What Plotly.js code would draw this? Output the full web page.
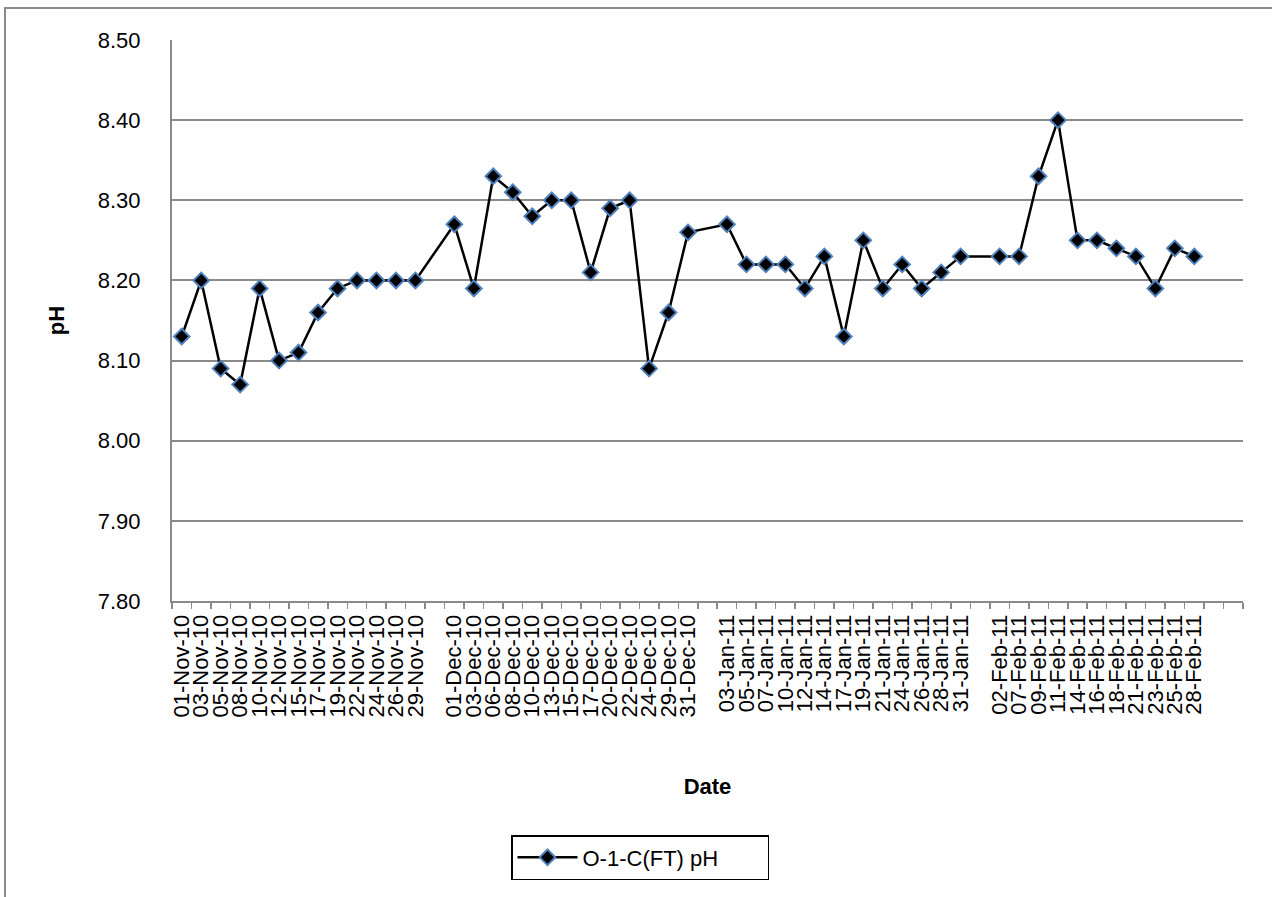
<!DOCTYPE html>
<html>
<head>
<meta charset="utf-8">
<script src="https://cdn.plot.ly/plotly-3.0.1.min.js"></script>
<style>
html,body{margin:0;padding:0;background:#fff;overflow:hidden;}
#wrap{position:relative;width:1272px;height:897px;overflow:hidden;}
#chart{width:1272px;height:897px;}
#frame{position:absolute;left:4px;top:7px;width:1400px;height:1000px;border:2px solid #8a8a8a;pointer-events:none;box-sizing:border-box;}
</style>
</head>
<body>
<div id="wrap"><div id="chart"></div><div id="frame"></div></div>
<script>
// Tick labels / sample dates, grouped by month
const novDates = ["01-Nov-10","03-Nov-10","05-Nov-10","08-Nov-10","10-Nov-10","12-Nov-10","15-Nov-10","17-Nov-10","19-Nov-10","22-Nov-10","24-Nov-10","26-Nov-10","29-Nov-10"];
const decDates = ["01-Dec-10","03-Dec-10","06-Dec-10","08-Dec-10","10-Dec-10","13-Dec-10","15-Dec-10","17-Dec-10","20-Dec-10","22-Dec-10","24-Dec-10","29-Dec-10","31-Dec-10"];
const janDates = ["03-Jan-11","05-Jan-11","07-Jan-11","10-Jan-11","12-Jan-11","14-Jan-11","17-Jan-11","19-Jan-11","21-Jan-11","24-Jan-11","26-Jan-11","28-Jan-11","31-Jan-11"];
const febDates = ["02-Feb-11","07-Feb-11","09-Feb-11","11-Feb-11","14-Feb-11","16-Feb-11","18-Feb-11","21-Feb-11","23-Feb-11","25-Feb-11","28-Feb-11"];

// pH values per month
const novPH = [8.13,8.20,8.09,8.07,8.19,8.10,8.11,8.16,8.19,8.20,8.20,8.20,8.20];
const decPH = [8.27,8.19,8.33,8.31,8.28,8.30,8.30,8.21,8.29,8.30,8.09,8.16,8.26];
const janPH = [8.27,8.22,8.22,8.22,8.19,8.23,8.13,8.25,8.19,8.22,8.19,8.21,8.23];
const febPH = [8.23,8.23,8.33,8.40,8.25,8.25,8.24,8.23,8.19,8.24,8.23];

// Axis category slots (blank slots separate the months, two trailing blanks)
const axisCategories = [...novDates, "", ...decDates, "", ...janDates, "", ...febDates, "", ""];

const seriesName = "O-1-C(FT) pH";
const yTitle = "pH";
const xTitle = "Date";
</script>
<script>
const dates = [...novDates, ...decDates, ...janDates, ...febDates];
const ph = [...novPH, ...decPH, ...janPH, ...febPH];
const xs = dates.map(d => axisCategories.indexOf(d));
const catIdx = axisCategories.map((c, i) => i);

const FONT = "Liberation Sans, Arial, sans-serif";
const GRID = "#8a8a8a";
const FS = 22;

const trace = {
  x: xs, y: ph, type: "scatter", mode: "lines+markers", name: seriesName,
  line: {color: "#000000", width: 2.5},
  marker: {symbol: "diamond", size: 12, color: "#000000", line: {color: "#4F81BD", width: 2}}
};

const layout = {
  width: 1272, height: 897,
  margin: {l: 172, r: 29, t: 40, b: 296},
  paper_bgcolor: "#ffffff", plot_bgcolor: "#ffffff",
  font: {family: FONT, size: FS, color: "#000000"},
  showlegend: true,
  xaxis: {
    range: [-0.5, axisCategories.length - 0.5],
    tickmode: "array", tickvals: catIdx, ticktext: axisCategories,
    tickangle: -90, ticks: "", ticklabelstandoff: 3,
    tickfont: {family: FONT, size: FS, color: "#000"},
    showgrid: false, zeroline: false,
    showline: true, linecolor: GRID, linewidth: 2,
    minor: {ticks: "outside", tick0: -0.5, dtick: 1, ticklen: 6, tickcolor: GRID, tickwidth: 1.5, showgrid: false},
    title: {text: "<b>" + xTitle + "</b>", font: {family: FONT, size: FS, color: "#000"}, standoff: 62},
    fixedrange: true
  },
  yaxis: {
    range: [7.80, 8.50], dtick: 0.1, tick0: 7.8, tickformat: ".2f",
    ticks: "", ticklabelstandoff: 25,
    tickfont: {family: FONT, size: FS, color: "#000"},
    showgrid: true, gridcolor: GRID, gridwidth: 2, zeroline: false,
    showline: true, linecolor: GRID, linewidth: 2,
    title: {text: "<b>" + yTitle + "</b>", font: {family: FONT, size: FS, color: "#000"}, standoff: 27},
    fixedrange: true
  },
  legend: {
    orientation: "h",
    x: (511 - 172) / 1071, xanchor: "left",
    y: 1 - (835 - 40) / 561, yanchor: "top",
    bordercolor: "#000000", borderwidth: 1.5, bgcolor: "#ffffff",
    font: {family: FONT, size: FS, color: "#000"},
    itemwidth: 60, entrywidth: 180
  }
};

Plotly.newPlot("chart", [trace], layout, {displayModeBar: false, staticPlot: true});
</script>
</body>
</html>
